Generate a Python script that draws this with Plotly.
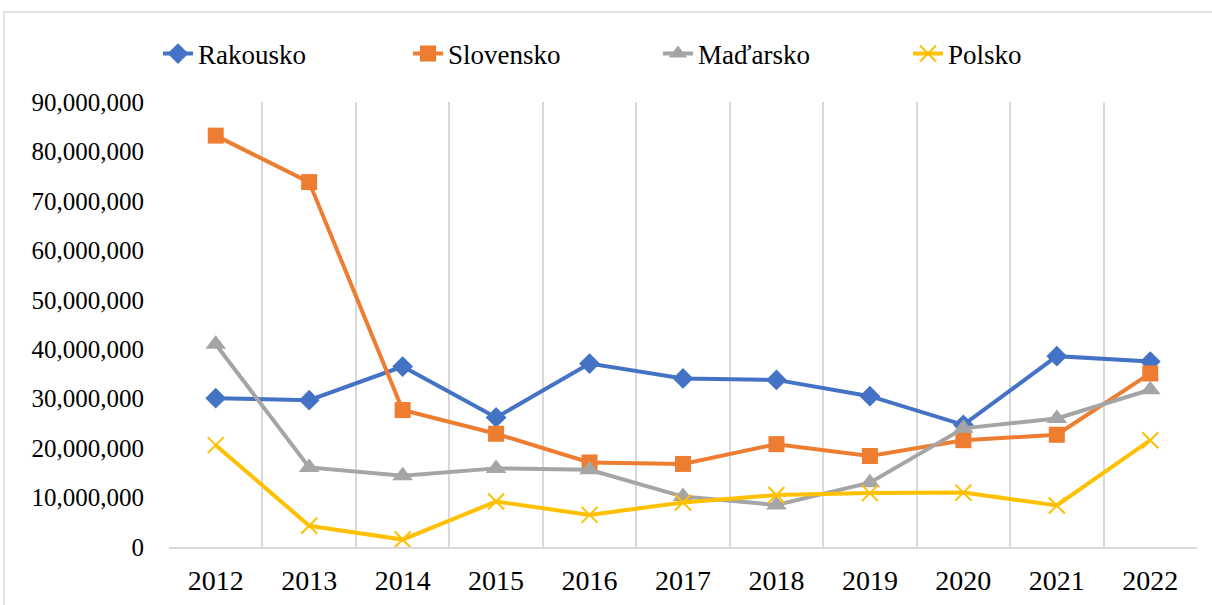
import plotly.graph_objects as go

years = ["2012", "2013", "2014", "2015", "2016", "2017", "2018", "2019", "2020", "2021", "2022"]
rakousko = [30100000, 29700000, 36500000, 26200000, 37100000, 34100000, 33800000, 30500000, 24700000, 38600000, 37500000]
slovensko = [83200000, 73800000, 27700000, 22900000, 17100000, 16800000, 20800000, 18400000, 21600000, 22700000, 35100000]
madarsko = [41000000, 16100000, 14400000, 15900000, 15600000, 10200000, 8500000, 13000000, 24000000, 26000000, 31800000]
polsko = [20600000, 4300000, 1500000, 9200000, 6500000, 9000000, 10500000, 10900000, 11000000, 8400000, 21600000]
y_ticks = [0, 10000000, 20000000, 30000000, 40000000, 50000000, 60000000, 70000000, 80000000, 90000000]

FONT = "Liberation Serif"

fig = go.Figure()
fig.add_trace(go.Scatter(x=years, y=rakousko, name="Rakousko", mode="lines+markers",
                         line=dict(color="#4472C4", width=4),
                         marker=dict(symbol="diamond", size=16, color="#4472C4")))
fig.add_trace(go.Scatter(x=years, y=slovensko, name="Slovensko", mode="lines+markers",
                         line=dict(color="#ED7D31", width=4),
                         marker=dict(symbol="square", size=16, color="#ED7D31")))
fig.add_trace(go.Scatter(x=years, y=madarsko, name="Maďarsko", mode="lines+markers",
                         line=dict(color="#A5A5A5", width=4),
                         marker=dict(symbol="triangle-up", size=18, color="#A5A5A5")))
fig.add_trace(go.Scatter(x=years, y=polsko, name="Polsko", mode="lines+markers",
                         line=dict(color="#FFC000", width=4),
                         marker=dict(symbol="x-thin", size=16, color="#FFC000",
                                     line=dict(color="#FFC000", width=2))))

fig.update_layout(
    width=1212, height=605,
    margin=dict(l=169, r=15, t=102, b=58, autoexpand=False),
    paper_bgcolor="white", plot_bgcolor="white",
    font=dict(family=FONT, color="black"),
    showlegend=True,
    legend=dict(orientation="h", xref="container", yref="container",
                x=158 / 1212, y=1 - 54 / 605, xanchor="left", yanchor="middle",
                font=dict(family=FONT, size=27, color="black"),
                entrywidth=205, entrywidthmode="pixels", itemwidth=30,
                bgcolor="rgba(0,0,0,0)"),
    xaxis=dict(type="category", range=[-0.5, 10.5], tickson="boundaries",
               showgrid=True, gridcolor="#d9d9d9", gridwidth=1.5,
               showline=True, linecolor="#d9d9d9", linewidth=1.5,
               ticks="", tickfont=dict(family=FONT, size=28, color="black"),
               ticklabelstandoff=8, automargin=False),
    yaxis=dict(range=[0, 90000000], tickvals=y_ticks, tickformat=",",
               showgrid=False, zeroline=False, showline=False, ticks="",
               tickfont=dict(family=FONT, size=25, color="black"),
               ticklabelstandoff=24, automargin=False),
    shapes=[dict(type="rect", xref="paper", yref="paper",
                 x0=(4 - 169) / 1028, x1=(1216 - 169) / 1028,
                 y0=(547 - 612) / 445, y1=(547 - 12) / 445,
                 line=dict(color="#d9d9d9", width=1.5), fillcolor="rgba(0,0,0,0)",
                 layer="below")],
)

fig.write_html("out.html", config={"displayModeBar": False},
               post_script="document.body.style.margin='0';")
